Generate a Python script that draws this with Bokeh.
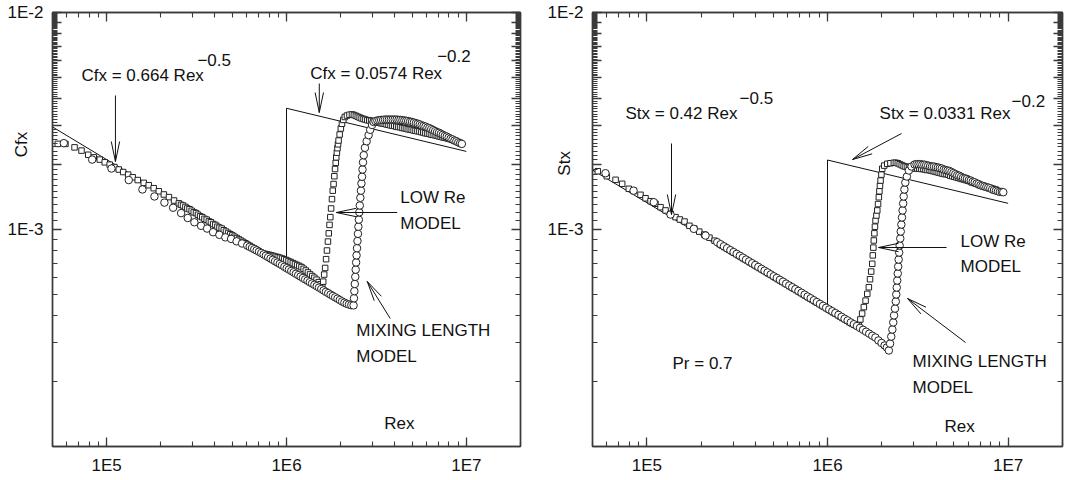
import math
from bokeh.plotting import figure
from bokeh.layouts import row
from bokeh.models import LogAxis, LogTicker, CustomJSTickFormatter, Label
from bokeh.embed import file_html
from bokeh.resources import INLINE

# ---------------- data ----------------
x_tick_values = [1e5, 1e6, 1e7]
x_tick_labels = ["1E5", "1E6", "1E7"]
y_tick_values = [1e-4, 1e-3, 1e-2]
y_tick_labels = ["1E-4", "1E-3", "1E-2"]

# correlation lines (laminar -> jump at Rex = 1E6 -> turbulent)
corr_re = [5e4, 1e6, 1e6, 1e7]
cf_corr = [0.00297, 0.000664, 0.00362, 0.00229]
st_corr = [0.00188, 0.00042, 0.00209, 0.00132]

# Cfx, LOW Re model (squares): (Rex, Cfx)
cf_lowre_pts = [
    (53500, 0.00248), (59000, 0.00248), (66300, 0.00239), (72500, 0.00231), (79000, 0.00221),
    (84800, 0.00215), (91600, 0.00210), (97600, 0.00204), (104000, 0.00199), (110500, 0.00194),
    (116800, 0.00189), (123600, 0.00184), (131700, 0.00179), (139600, 0.00174), (148900, 0.00169),
    (160800, 0.00164), (171400, 0.00160), (182700, 0.00155), (195000, 0.00150), (208000, 0.00145),
    (222000, 0.00141), (237000, 0.00136), (252000, 0.00132), (259000, 0.00130), (266000, 0.00129),
    (274000, 0.00127), (281000, 0.00125), (289000, 0.00124), (297000, 0.00122), (305000, 0.00120),
    (314000, 0.00119), (322000, 0.00117), (331000, 0.00115), (340000, 0.00114), (350000, 0.00112),
    (360000, 0.00111), (370000, 0.00109), (380000, 0.00108), (391000, 0.00106), (402000, 0.00105),
    (413000, 0.00103), (424000, 0.00102), (436000, 0.00101), (448000, 0.000992), (461000, 0.000978),
    (474000, 0.000964), (487000, 0.000951), (500000, 0.000939), (514000, 0.000926), (529000, 0.000913),
    (544000, 0.000900), (559000, 0.000888), (575000, 0.000876), (591000, 0.000864), (607000, 0.000852),
    (624000, 0.000841), (642000, 0.000829), (660000, 0.000818), (678000, 0.000807), (697000, 0.000796),
    (717000, 0.000785), (737000, 0.000777), (758000, 0.000772), (779000, 0.000768), (801000, 0.000764),
    (823000, 0.000760), (846000, 0.000755), (870000, 0.000750), (894000, 0.000746), (919000, 0.000741),
    (945000, 0.000735), (971000, 0.000729), (998000, 0.000723), (1026000, 0.000715), (1055000, 0.000708),
    (1084000, 0.000700), (1115000, 0.000693), (1146000, 0.000686), (1178000, 0.000679), (1211000, 0.000671),
    (1245000, 0.000659), (1280000, 0.000647), (1316000, 0.000634), (1352000, 0.000621), (1390000, 0.000610),
    (1429000, 0.000599), (1469000, 0.000587), (1510000, 0.000572), (1545000, 0.000559), (1581000, 0.000542),
    (1600000, 0.000575), (1620000, 0.000620), (1640000, 0.000665), (1660000, 0.000730), (1679000, 0.000800),
    (1700000, 0.000880), (1718000, 0.000960), (1735000, 0.00105), (1752000, 0.00114), (1770000, 0.00125),
    (1790000, 0.00138), (1808000, 0.00151), (1827000, 0.00162), (1845000, 0.00176), (1862000, 0.00190),
    (1878000, 0.00203), (1891000, 0.00215), (1906000, 0.00226), (1920000, 0.00237), (1934000, 0.00247),
    (1948000, 0.00257), (1975000, 0.00274), (2005000, 0.00292), (2034000, 0.00307), (2070000, 0.00320),
    (2110000, 0.00330), (2169000, 0.00335), (2240000, 0.00338), (2312000, 0.00339), (2370000, 0.00337),
    (2430000, 0.00334), (2490000, 0.00331), (2550000, 0.00328), (2615000, 0.00325), (2680000, 0.00323),
    (2745000, 0.00321), (2815000, 0.00319), (2885000, 0.00318), (2955000, 0.00317), (3030000, 0.00315),
    (3105000, 0.00314), (3185000, 0.00312), (3265000, 0.00311), (3345000, 0.00309), (3430000, 0.00308),
    (3515000, 0.00307), (3600000, 0.00305), (3690000, 0.00304), (3785000, 0.00302), (3880000, 0.00301),
    (3975000, 0.00300), (4075000, 0.00298), (4175000, 0.00297), (4280000, 0.00296), (4390000, 0.00294),
    (4500000, 0.00293), (4610000, 0.00292), (4725000, 0.00290), (4845000, 0.00289), (4965000, 0.00288),
    (5090000, 0.00286), (5215000, 0.00285), (5345000, 0.00284), (5480000, 0.00283), (5620000, 0.00281),
    (5760000, 0.00280), (5900000, 0.00278), (6050000, 0.00277), (6200000, 0.00276), (6355000, 0.00274),
    (6515000, 0.00273), (6680000, 0.00272), (6845000, 0.00271), (7015000, 0.00269), (7190000, 0.00268),
    (7370000, 0.00266), (7555000, 0.00265), (7745000, 0.00264), (7940000, 0.00262), (8140000, 0.00261),
    (8340000, 0.00259), (8500000, 0.00258), (8670000, 0.00257)]

# Cfx, MIXING LENGTH model (circles): (Rex, Cfx)
cf_ml_pts = [
    (57800, 0.00250), (83100, 0.00210), (106400, 0.00191), (132700, 0.00169), (158100, 0.00153),
    (184400, 0.00142), (209500, 0.00133), (234200, 0.00126), (259400, 0.00119), (282300, 0.00113),
    (307500, 0.00108), (335000, 0.00104), (361800, 0.00101), (390700, 0.000972), (423400, 0.000945),
    (457200, 0.000920), (492000, 0.000905), (528000, 0.000882), (566000, 0.000862), (605000, 0.000843),
    (624000, 0.000832), (643000, 0.000822), (662000, 0.000811), (682000, 0.000801), (703000, 0.000790),
    (724000, 0.000779), (746000, 0.000768), (768000, 0.000757), (791000, 0.000746), (815000, 0.000735),
    (839000, 0.000725), (864000, 0.000714), (890000, 0.000704), (917000, 0.000694), (944000, 0.000684),
    (973000, 0.000673), (1002000, 0.000663), (1032000, 0.000654), (1063000, 0.000644), (1095000, 0.000635),
    (1128000, 0.000625), (1162000, 0.000616), (1197000, 0.000607), (1233000, 0.000598), (1270000, 0.000589),
    (1308000, 0.000581), (1347000, 0.000572), (1387000, 0.000564), (1429000, 0.000556), (1472000, 0.000548),
    (1516000, 0.000540), (1561000, 0.000532), (1608000, 0.000524), (1656000, 0.000516), (1706000, 0.000509),
    (1757000, 0.000501), (1810000, 0.000494), (1864000, 0.000487), (1920000, 0.000480), (1978000, 0.000473),
    (2037000, 0.000466), (2098000, 0.000460), (2161000, 0.000455), (2225000, 0.000451), (2292000, 0.000448),
    (2360000, 0.000447), (2372000, 0.000482), (2384000, 0.000520), (2397000, 0.000561), (2412000, 0.000605),
    (2425000, 0.000653), (2438000, 0.000705), (2452000, 0.000760), (2467000, 0.000820), (2481000, 0.000885),
    (2496000, 0.000955), (2510000, 0.00103), (2525000, 0.00111), (2540000, 0.00120), (2556000, 0.00129),
    (2574000, 0.00140), (2592000, 0.00151), (2611000, 0.00163), (2630000, 0.00175), (2646000, 0.00189),
    (2663000, 0.00204), (2688000, 0.00220), (2730000, 0.00238), (2790000, 0.00255), (2860000, 0.00272),
    (2920000, 0.00288), (2990000, 0.00303), (3050000, 0.00313), (3120000, 0.00316), (3200000, 0.00318),
    (3280000, 0.00319), (3360000, 0.00320), (3445000, 0.00320), (3530000, 0.00321), (3620000, 0.00321),
    (3710000, 0.00321), (3800000, 0.00321), (3895000, 0.00321), (3995000, 0.00321), (4095000, 0.00321),
    (4195000, 0.00320), (4300000, 0.00320), (4410000, 0.00319), (4520000, 0.00318), (4630000, 0.00317),
    (4745000, 0.00316), (4865000, 0.00314), (4985000, 0.00313), (5110000, 0.00311), (5240000, 0.00309),
    (5370000, 0.00307), (5505000, 0.00305), (5640000, 0.00302), (5780000, 0.00300), (5925000, 0.00298),
    (6075000, 0.00295), (6225000, 0.00293), (6380000, 0.00290), (6540000, 0.00287), (6705000, 0.00284),
    (6870000, 0.00281), (7045000, 0.00279), (7220000, 0.00276), (7400000, 0.00273), (7585000, 0.00270),
    (7775000, 0.00268), (7970000, 0.00265), (8170000, 0.00262), (8370000, 0.00260), (8580000, 0.00257),
    (8795000, 0.00255), (9015000, 0.00252), (9240000, 0.00250), (9440000, 0.00248)]

# Stx, LOW Re model (squares): (Rex, Stx)
st_lowre_pts = [
    (53500, 0.001856), (60000, 0.00176), (67100, 0.001694), (73000, 0.001624), (79400, 0.00154),
    (84700, 0.001504), (92200, 0.001445), (98300, 0.001393), (104800, 0.00135), (111600, 0.001314),
    (119000, 0.001267), (126900, 0.001224), (135200, 0.001181), (144100, 0.00114), (152200, 0.001112),
    (161600, 0.001088), (172000, 0.00104), (183000, 0.00101), (195000, 0.000978), (208000, 0.000948),
    (222000, 0.000917), (237000, 0.000888), (253000, 0.000856), (261000, 0.000843), (269000, 0.000830),
    (277000, 0.000818), (285000, 0.000806), (294000, 0.000794), (303000, 0.000782), (312000, 0.000771),
    (321000, 0.000760), (331000, 0.000748), (341000, 0.000737), (351000, 0.000727), (361000, 0.000717),
    (372000, 0.000706), (383000, 0.000696), (395000, 0.000685), (407000, 0.000675), (419000, 0.000665),
    (431000, 0.000656), (444000, 0.000646), (457000, 0.000637), (471000, 0.000627), (485000, 0.000618),
    (500000, 0.000609), (515000, 0.000600), (530000, 0.000591), (546000, 0.000583), (562000, 0.000574),
    (579000, 0.000566), (596000, 0.000558), (614000, 0.000549), (632000, 0.000542), (651000, 0.000534),
    (671000, 0.000526), (691000, 0.000518), (712000, 0.000510), (733000, 0.000503), (755000, 0.000495),
    (778000, 0.000488), (801000, 0.000481), (825000, 0.000474), (850000, 0.000467), (875000, 0.000460),
    (901000, 0.000454), (928000, 0.000447), (956000, 0.000440), (985000, 0.000434), (1015000, 0.000427),
    (1045000, 0.000421), (1076000, 0.000415), (1108000, 0.000409), (1141000, 0.000403), (1175000, 0.000397),
    (1210000, 0.000391), (1246000, 0.000386), (1284000, 0.000380), (1322000, 0.000374), (1362000, 0.000369),
    (1403000, 0.000364), (1445000, 0.000361), (1491000, 0.000362), (1520000, 0.000385), (1555000, 0.000410),
    (1589000, 0.000439), (1625000, 0.000470), (1660000, 0.000505), (1694000, 0.000542), (1720000, 0.000590),
    (1745000, 0.000640), (1769000, 0.000695), (1782000, 0.000760), (1794000, 0.000825), (1805000, 0.000890),
    (1818000, 0.000960), (1831000, 0.00103), (1845000, 0.00110), (1866000, 0.00116), (1886000, 0.001224),
    (1905000, 0.00131), (1924000, 0.001408), (1938000, 0.00150), (1952000, 0.00159), (1967000, 0.001681),
    (1988000, 0.00179), (2009000, 0.001905), (2060000, 0.00197), (2142000, 0.002008), (2230000, 0.00202),
    (2330000, 0.00203), (2390000, 0.00203), (2450000, 0.00202), (2510000, 0.00200), (2575000, 0.00198),
    (2640000, 0.00196), (2705000, 0.00195), (2775000, 0.00194), (2845000, 0.00193), (2915000, 0.00192),
    (2990000, 0.00192), (3065000, 0.00191), (3140000, 0.00191), (3220000, 0.00191), (3300000, 0.00190),
    (3385000, 0.00190), (3470000, 0.00189), (3555000, 0.00188), (3645000, 0.00188), (3735000, 0.00187),
    (3830000, 0.00186), (3925000, 0.00185), (4025000, 0.00184), (4125000, 0.00183), (4230000, 0.00182),
    (4335000, 0.00181), (4445000, 0.00180), (4555000, 0.00180), (4670000, 0.00179), (4785000, 0.00177),
    (4905000, 0.00176), (5030000, 0.00175), (5155000, 0.00174), (5285000, 0.00173), (5415000, 0.00172),
    (5550000, 0.00171), (5690000, 0.00170), (5835000, 0.00169), (5980000, 0.00168), (6130000, 0.00167),
    (6280000, 0.00165), (6440000, 0.00164), (6600000, 0.00163), (6765000, 0.00162), (6935000, 0.00160),
    (7110000, 0.00159), (7285000, 0.00158), (7470000, 0.00157), (7655000, 0.00156), (7845000, 0.00155),
    (8045000, 0.00155), (8245000, 0.00154), (8520000, 0.001529)]

# Stx, MIXING LENGTH model (circles): (Rex, Stx)
st_ml_pts = [
    (59000, 0.001817), (84400, 0.00151), (109200, 0.001336), (135200, 0.001172), (181900, 0.001007),
    (211200, 0.000938), (245200, 0.000874), (256000, 0.000855), (267000, 0.000837), (278000, 0.000820),
    (290000, 0.000803), (302000, 0.000787), (314000, 0.000772), (327000, 0.000757), (340000, 0.000742),
    (354000, 0.000727), (368000, 0.000713), (383000, 0.000699), (398000, 0.000686), (414000, 0.000672),
    (431000, 0.000659), (448000, 0.000646), (466000, 0.000634), (485000, 0.000621), (504000, 0.000609),
    (524000, 0.000598), (545000, 0.000586), (567000, 0.000575), (590000, 0.000563), (614000, 0.000552),
    (638000, 0.000542), (664000, 0.000531), (690000, 0.000521), (718000, 0.000511), (747000, 0.000501),
    (776000, 0.000491), (807000, 0.000482), (840000, 0.000472), (873000, 0.000463), (908000, 0.000454),
    (945000, 0.000445), (983000, 0.000436), (1022000, 0.000428), (1063000, 0.000420), (1105000, 0.000412),
    (1150000, 0.000404), (1196000, 0.000396), (1243000, 0.000388), (1293000, 0.000381), (1345000, 0.000373),
    (1399000, 0.000366), (1455000, 0.000359), (1513000, 0.000352), (1573000, 0.000345), (1636000, 0.000338),
    (1702000, 0.000331), (1770000, 0.000324), (1841000, 0.000318), (1914000, 0.000308), (1991000, 0.000300),
    (2070000, 0.000292), (2130000, 0.000286), (2186000, 0.000277), (2220000, 0.000298), (2254000, 0.000321),
    (2286000, 0.000346), (2312000, 0.000373), (2336000, 0.000402), (2363000, 0.000432), (2388000, 0.000466),
    (2403000, 0.000502), (2418000, 0.000540), (2433000, 0.000582), (2449000, 0.000627), (2462000, 0.000675),
    (2477000, 0.000727), (2493000, 0.000783), (2509000, 0.000844), (2528000, 0.000909), (2544000, 0.000979),
    (2564000, 0.001054), (2584000, 0.001136), (2604000, 0.001224), (2624000, 0.001318), (2641000, 0.00142),
    (2665000, 0.001529), (2696000, 0.001646), (2751000, 0.001754), (2820000, 0.00187), (2919000, 0.001951),
    (3034000, 0.001993), (3110000, 0.00200), (3190000, 0.00200), (3270000, 0.00200), (3350000, 0.00199),
    (3435000, 0.00199), (3520000, 0.00198), (3610000, 0.00197), (3700000, 0.00196), (3790000, 0.00195),
    (3885000, 0.00195), (3985000, 0.00194), (4085000, 0.00193), (4185000, 0.00192), (4290000, 0.00191),
    (4400000, 0.00189), (4510000, 0.00188), (4620000, 0.00187), (4735000, 0.00186), (4855000, 0.00184),
    (4975000, 0.00182), (5100000, 0.00180), (5230000, 0.00178), (5360000, 0.00177), (5495000, 0.00175),
    (5630000, 0.00173), (5770000, 0.00172), (5915000, 0.00171), (6065000, 0.00169), (6215000, 0.00168),
    (6370000, 0.00166), (6530000, 0.00165), (6695000, 0.00163), (6860000, 0.00162), (7030000, 0.00160),
    (7210000, 0.00159), (7390000, 0.00158), (7575000, 0.00157), (7765000, 0.00156), (7960000, 0.00155),
    (8160000, 0.00153), (8360000, 0.00152), (8570000, 0.00151), (8785000, 0.00150), (9005000, 0.00149),
    (9230000, 0.00149), (9400000, 0.001485)]

cf_lowre_re, cf_lowre = [list(v) for v in zip(*cf_lowre_pts)]
cf_ml_re, cf_ml = [list(v) for v in zip(*cf_ml_pts)]
st_lowre_re, st_lowre = [list(v) for v in zip(*st_lowre_pts)]
st_ml_re, st_ml = [list(v) for v in zip(*st_ml_pts)]

# ---------------- styling / layout ----------------
FONT = "Liberation Sans"
INK = "#111111"
AXC = "#3a3a3a"
FS = "17px"
X_RANGE = (5e4, 2e7)
Y_RANGE = (1e-4, 1e-2)
H = 478
TOP, BOTTOM = 12, 32
FH = H - TOP - BOTTOM
LOG_X0 = math.log10(X_RANGE[0])
NBSP = "\u00a0"

FMT_CODE = """
const lt = Math.log10(tick);
for (let i = 0; i < vals.length; i++) {
  if (Math.abs(Math.log10(vals[i]) - lt) < 1e-6) { return labs[i]; }
}
return '';
"""


def style_axis(ax, vals, labs, show_labels):
    ax.ticker = LogTicker(num_minor_ticks=10)
    ax.axis_line_color = AXC
    ax.axis_line_width = 1.4
    ax.major_tick_line_color = AXC
    ax.minor_tick_line_color = AXC
    ax.major_tick_line_width = 1.3
    ax.minor_tick_line_width = 1.1
    ax.major_tick_in = 9
    ax.major_tick_out = 0
    ax.minor_tick_in = 5
    ax.minor_tick_out = 0
    if show_labels:
        ax.formatter = CustomJSTickFormatter(args=dict(vals=vals, labs=labs), code=FMT_CODE)
        ax.major_label_text_font = FONT
        ax.major_label_text_font_size = FS
        ax.major_label_text_color = INK
        ax.major_label_standoff = 9
    else:
        ax.formatter = CustomJSTickFormatter(code="return '';")
        ax.major_label_text_font_size = "0px"
        ax.major_label_standoff = 0


def make_panel(width, bl, br, ytitle, pad, standoff):
    p = figure(width=width, height=H, x_axis_type="log", y_axis_type="log",
               x_range=X_RANGE, y_range=Y_RANGE, output_backend="svg",
               toolbar_location=None, min_border_left=bl, min_border_right=br,
               min_border_top=TOP, min_border_bottom=BOTTOM)
    p.grid.visible = False
    p.outline_line_color = AXC
    p.outline_line_width = 1.4
    p.background_fill_color = "white"
    p.border_fill_color = "white"
    style_axis(p.xaxis[0], x_tick_values, x_tick_labels, True)
    yax = p.yaxis[0]
    style_axis(yax, y_tick_values, y_tick_labels, True)
    # y title sits above the axis middle (as in the original): pad with no-break spaces
    yax.axis_label = NBSP * pad + ytitle
    yax.axis_label_text_font = FONT
    yax.axis_label_text_font_size = FS
    yax.axis_label_text_font_style = "normal"
    yax.axis_label_text_color = INK
    yax.axis_label_standoff = standoff
    top = LogAxis()
    right = LogAxis()
    style_axis(top, x_tick_values, x_tick_labels, False)
    style_axis(right, y_tick_values, y_tick_labels, False)
    p.add_layout(top, "above")
    p.add_layout(right, "right")
    return p


def add_text(p, pt, text):
    p.add_layout(Label(x=pt[0], y=pt[1], text=text, text_font=FONT, text_font_size=FS,
                       text_color=INK, text_align="left", text_baseline="middle"))


def add_arrow(p, tail, tip, kx, ky, hl=20, hw=4.2):
    lx0, ly0 = math.log10(tail[0]), math.log10(tail[1])
    lx1, ly1 = math.log10(tip[0]), math.log10(tip[1])
    dx, dy = (lx1 - lx0) * kx, (ly1 - ly0) * ky
    n = math.hypot(dx, dy)
    ux, uy = dx / n, dy / n
    b1 = (10 ** (lx1 + (-hl * ux - hw * uy) / kx), 10 ** (ly1 + (-hl * uy + hw * ux) / ky))
    b2 = (10 ** (lx1 + (-hl * ux + hw * uy) / kx), 10 ** (ly1 + (-hl * uy - hw * ux) / ky))
    p.line([tail[0], tip[0]], [tail[1], tip[1]], line_color=INK, line_width=1)
    p.line([b1[0], tip[0], b2[0]], [b1[1], tip[1], b2[1]], line_color=INK, line_width=1)


# reference-pixel helpers used only to place annotations
def left_pt(xp, yp):
    return (10 ** (LOG_X0 + (xp - 52) / 180.0), 10 ** (-2 - (yp - 12) / 217.0))


def right_pt(xp, yp):
    return (10 ** (LOG_X0 + (xp - 592) / 180.6), 10 ** (-2 - (yp - 12) / 217.0))


def draw_panel(p, frame_w, re_sq, v_sq, re_ci, v_ci, v_corr):
    p.line(corr_re, v_corr, line_color=INK, line_width=1)
    p.scatter(re_sq, v_sq, marker="square", size=5.5, fill_color="white",
              line_color="#222222", line_width=1)
    p.scatter(re_ci, v_ci, marker="circle", size=7.5, fill_color="white",
              line_color="#222222", line_width=1)
    kx = frame_w / (math.log10(X_RANGE[1]) - math.log10(X_RANGE[0]))
    ky = FH / (math.log10(Y_RANGE[1]) - math.log10(Y_RANGE[0]))
    return kx, ky


# ---------------- left panel: Cfx ----------------
W1, BL1, BR1 = 540, 52, 20
p1 = make_panel(W1, BL1, BR1, "Cfx", 36, -26)
kx1, ky1 = draw_panel(p1, W1 - BL1 - BR1, cf_lowre_re, cf_lowre, cf_ml_re, cf_ml, cf_corr)

left_texts = [("Cfx = 0.664 Rex", 81, 75), ("\u22120.5", 197, 59),
              ("Cfx = 0.0574 Rex", 310, 73), ("\u22120.2", 437, 55),
              ("LOW Re", 400, 197), ("MODEL", 400, 223),
              ("MIXING LENGTH", 356, 330), ("MODEL", 356, 356),
              ("Rex", 384, 423)]
for t, xp, yp in left_texts:
    add_text(p1, left_pt(xp, yp), t)
left_arrows = [((115, 95), (115, 161)), ((319, 83), (319, 112)),
               ((397, 212), (336, 212)), ((390, 318), (367, 281))]
for tail, tip in left_arrows:
    add_arrow(p1, left_pt(*tail), left_pt(*tip), kx1, ky1)

# ---------------- right panel: Stx ----------------
W2, BL2, BR2 = 525, 52, 3
p2 = make_panel(W2, BL2, BR2, "Stx", 28, -29)
kx2, ky2 = draw_panel(p2, W2 - BL2 - BR2, st_lowre_re, st_lowre, st_ml_re, st_ml, st_corr)

right_texts = [("Stx = 0.42 Rex", 625, 113), ("\u22120.5", 739, 97),
               ("Stx = 0.0331 Rex", 879, 113), ("\u22120.2", 1011, 100),
               ("LOW Re", 960, 241), ("MODEL", 960, 266),
               ("MIXING LENGTH", 912, 361), ("MODEL", 912, 387),
               ("Pr = 0.7", 672, 363), ("Rex", 944, 426)]
for t, xp, yp in right_texts:
    add_text(p2, right_pt(xp, yp), t)
right_arrows = [((671, 143), (671, 214)), ((901, 133), (852, 159)),
                ((946, 247), (878, 247)), ((965, 342), (907, 298))]
for tail, tip in right_arrows:
    add_arrow(p2, right_pt(*tail), right_pt(*tip), kx2, ky2)

layout = row(p1, p2)
open("out.html", "w").write(file_html(layout, INLINE))
